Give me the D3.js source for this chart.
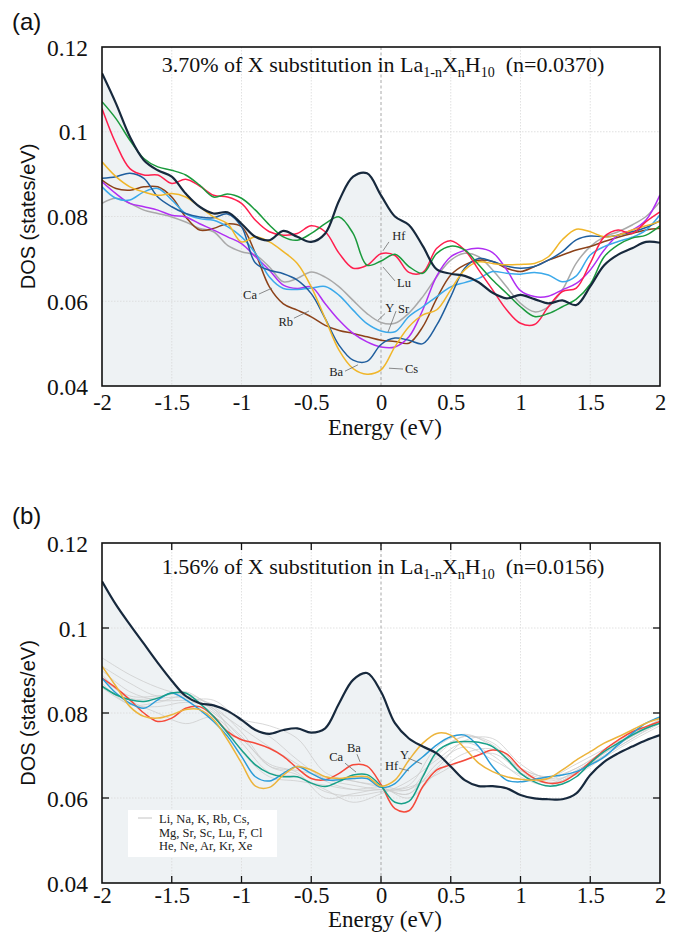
<!DOCTYPE html>
<html>
<head>
<meta charset="utf-8">
<script src="https://cdn.jsdelivr.net/npm/d3@7"></script>
<style>
  body { margin: 0; background: #fff; }
  svg { display: block; }
</style>
</head>
<body>
<svg id="chart" width="677" height="933"></svg>
<script>
// energy grid (eV)
const energy = [-2, -1.9, -1.8, -1.7, -1.6, -1.5, -1.4, -1.3, -1.2, -1.1, -1,
  -0.9, -0.8, -0.7, -0.6, -0.5, -0.4, -0.3, -0.2, -0.1, 0,
  0.1, 0.2, 0.3, 0.4, 0.5, 0.6, 0.7, 0.8, 0.9, 1,
  1.1, 1.2, 1.3, 1.4, 1.5, 1.6, 1.7, 1.8, 1.9, 2];
const energyCoarse = [-2, -1.8, -1.6, -1.4, -1.2, -1, -0.8, -0.6, -0.4, -0.2, 0,
  0.2, 0.4, 0.6, 0.8, 1, 1.2, 1.4, 1.6, 1.8, 2];

const xTicks = [-2, -1.5, -1, -0.5, 0, 0.5, 1, 1.5, 2];
const yTicks = [0.04, 0.06, 0.08, 0.1, 0.12];

// ---- panel (a): 3.70% ----
const pureA = [0.1138, 0.1067, 0.0988, 0.0933, 0.0909, 0.0894, 0.0854, 0.0823, 0.0807, 0.081, 0.0783,
  0.0752, 0.0744, 0.0766, 0.0752, 0.074, 0.076, 0.0838, 0.0894, 0.0902, 0.085,
  0.080, 0.078, 0.073, 0.0675, 0.0665, 0.066, 0.0645, 0.062, 0.0607, 0.0615,
  0.0605, 0.0595, 0.0602, 0.0591, 0.0635, 0.0685, 0.071, 0.0725, 0.074, 0.0738];
const luA = [0.1071, 0.1031, 0.098, 0.0937, 0.0917, 0.0909, 0.0898, 0.0874, 0.0846, 0.0853, 0.0843,
  0.0815, 0.078, 0.0752, 0.0744, 0.076, 0.0783, 0.0799, 0.076, 0.0685, 0.0695,
  0.0711, 0.0682, 0.0666, 0.0713, 0.073, 0.0721, 0.0686, 0.065, 0.0619, 0.0587,
  0.0564, 0.0571, 0.0587, 0.0605, 0.064, 0.0705, 0.0733, 0.0749, 0.0756, 0.0778];
const hfA = [0.1055, 0.0972, 0.0913, 0.0898, 0.0898, 0.0878, 0.0888, 0.0872, 0.085, 0.0846, 0.0831,
  0.0791, 0.0764, 0.0756, 0.076, 0.0778, 0.0764, 0.0713, 0.0678, 0.0685, 0.0712,
  0.0708, 0.0668, 0.0668, 0.0725, 0.0743, 0.0721, 0.0674, 0.0627, 0.058, 0.0548,
  0.0545, 0.0587, 0.0623, 0.0631, 0.069, 0.0752, 0.0768, 0.076, 0.0788, 0.0811];
const csA = [0.0929, 0.0894, 0.087, 0.0858, 0.085, 0.0854, 0.0846, 0.0823, 0.0799, 0.0783, 0.074,
  0.0752, 0.074, 0.0717, 0.0689, 0.0634, 0.0559, 0.0484, 0.0441, 0.0428, 0.0438,
  0.0493, 0.054, 0.0568, 0.058, 0.0627, 0.0674, 0.0693, 0.0689, 0.0686, 0.0687,
  0.0689, 0.0705, 0.0745, 0.077, 0.0764, 0.0752, 0.0756, 0.0768, 0.0778, 0.0788];
const baA = [0.089, 0.0894, 0.0902, 0.089, 0.0846, 0.0823, 0.0807, 0.0799, 0.0797, 0.0806, 0.0776,
  0.069, 0.0673, 0.0665, 0.065, 0.0618, 0.0559, 0.0496, 0.0461, 0.0458, 0.0498,
  0.0513, 0.0508, 0.05, 0.0544, 0.0611, 0.0678, 0.0701, 0.0694, 0.0683, 0.0678,
  0.0682, 0.0697, 0.0717, 0.0745, 0.0754, 0.0752, 0.0756, 0.0764, 0.0774, 0.079];
const srA = [0.087, 0.0843, 0.0839, 0.0858, 0.0866, 0.0839, 0.0807, 0.0795, 0.0791, 0.0776, 0.0752,
  0.0713, 0.0657, 0.063, 0.0628, 0.0631, 0.0635, 0.0614, 0.0579, 0.0547, 0.053,
  0.0528, 0.0564, 0.0587, 0.0611, 0.0634, 0.0644, 0.0654, 0.067, 0.0666, 0.0664,
  0.0668, 0.0662, 0.0646, 0.066, 0.0709, 0.0729, 0.0741, 0.0751, 0.0768, 0.0804];
const caA = [0.0882, 0.0854, 0.0831, 0.0823, 0.0815, 0.0803, 0.0799, 0.0783, 0.0768, 0.0752, 0.0736,
  0.0705, 0.0673, 0.0638, 0.063, 0.0634, 0.0594, 0.0555, 0.0524, 0.0504, 0.0492,
  0.0492, 0.0516, 0.058, 0.066, 0.0705, 0.072, 0.0725, 0.0715, 0.0675, 0.0625,
  0.0611, 0.0612, 0.0627, 0.0642, 0.0674, 0.0721, 0.0756, 0.0768, 0.0792, 0.0851];
const rbA = [0.0886, 0.0866, 0.0862, 0.087, 0.087, 0.0846, 0.0799, 0.0768, 0.0772, 0.0783, 0.0776,
  0.0713, 0.0634, 0.0594, 0.0579, 0.0563, 0.0543, 0.0531, 0.0524, 0.0516, 0.0508,
  0.0505, 0.0501, 0.054, 0.0607, 0.0662, 0.0686, 0.0697, 0.0694, 0.0678, 0.067,
  0.0682, 0.0697, 0.0709, 0.0721, 0.0729, 0.0741, 0.0751, 0.076, 0.0768, 0.0772];
const yA = [0.0831, 0.0843, 0.0831, 0.0815, 0.0807, 0.0799, 0.0787, 0.0772, 0.0764, 0.0732, 0.0717,
  0.0709, 0.0681, 0.0646, 0.0654, 0.0669, 0.0657, 0.0634, 0.0602, 0.0571, 0.055,
  0.0548, 0.0572, 0.0611, 0.0658, 0.0697, 0.0713, 0.0705, 0.0674, 0.0634, 0.0595,
  0.0575, 0.0587, 0.0627, 0.069, 0.0729, 0.0752, 0.0764, 0.078, 0.08, 0.0835];

// ---- panel (b): 1.56% ----
const pureB = [0.111, 0.1055, 0.1008, 0.0963, 0.0918, 0.0876, 0.0840, 0.0823, 0.0818, 0.0805, 0.0784,
  0.076, 0.0751, 0.076, 0.0764, 0.0754, 0.0764, 0.0823, 0.0878, 0.0894, 0.085,
  0.0776, 0.074, 0.0721, 0.0705, 0.0674, 0.0642, 0.0628, 0.0628, 0.0623, 0.0607,
  0.0599, 0.0597, 0.0597, 0.0611, 0.0654, 0.0685, 0.0705, 0.0721, 0.0736, 0.0748];
const baB = [0.0882, 0.0859, 0.0831, 0.08, 0.078, 0.0788, 0.0811, 0.0815, 0.0792, 0.0756, 0.0737,
  0.0729, 0.0717, 0.0698, 0.067, 0.0646, 0.0643, 0.0658, 0.0678, 0.0675, 0.0632,
  0.0575, 0.057, 0.0627, 0.0666, 0.0678, 0.0689, 0.0701, 0.0713, 0.0704, 0.067,
  0.0646, 0.0635, 0.0638, 0.0658, 0.0685, 0.0713, 0.0736, 0.0756, 0.0768, 0.078];
const caB = [0.0863, 0.0843, 0.0831, 0.0827, 0.0835, 0.0847, 0.0847, 0.0823, 0.0792, 0.0753, 0.0713,
  0.0678, 0.0658, 0.065, 0.065, 0.0635, 0.0627, 0.0639, 0.0654, 0.0655, 0.0628,
  0.059, 0.0592, 0.065, 0.0709, 0.0729, 0.0733, 0.0731, 0.0721, 0.0693, 0.0658,
  0.0638, 0.0628, 0.0633, 0.065, 0.0682, 0.0709, 0.0729, 0.0748, 0.0764, 0.0776];
const hfB = [0.0882, 0.0847, 0.0823, 0.0811, 0.0831, 0.0847, 0.0831, 0.0808, 0.078, 0.0745, 0.0698,
  0.065, 0.064, 0.0658, 0.0674, 0.0658, 0.0643, 0.0643, 0.0646, 0.0646, 0.0625,
  0.0634, 0.067, 0.0697, 0.0725, 0.0744, 0.0748, 0.0721, 0.0674, 0.0642, 0.0638,
  0.0644, 0.065, 0.0654, 0.0662, 0.0678, 0.0697, 0.0725, 0.0752, 0.0776, 0.0791];
const yB = [0.091, 0.0863, 0.0815, 0.0792, 0.0788, 0.0796, 0.0808, 0.0808, 0.0784, 0.0737, 0.0682,
  0.0628, 0.0625, 0.0654, 0.0674, 0.0666, 0.065, 0.0646, 0.065, 0.065, 0.0628,
  0.0642, 0.0689, 0.0729, 0.0752, 0.0748, 0.0717, 0.0682, 0.0662, 0.065, 0.0644,
  0.0642, 0.0646, 0.0666, 0.0689, 0.0709, 0.0729, 0.0744, 0.076, 0.0776, 0.0787];
// faint grey curves: the other substituents of panel (b)
const othersB = [
  [0.093, 0.089, 0.086, 0.084, 0.082, 0.0785, 0.077, 0.074, 0.066, 0.064, 0.063, 0.062, 0.070, 0.0745, 0.073, 0.067, 0.065, 0.067, 0.071, 0.075, 0.078],
  [0.091, 0.087, 0.084, 0.085, 0.081, 0.0765, 0.072, 0.068, 0.064, 0.062, 0.062, 0.063, 0.072, 0.075, 0.072, 0.066, 0.064, 0.066, 0.070, 0.074, 0.0775],
  [0.089, 0.083, 0.080, 0.0775, 0.079, 0.073, 0.066, 0.065, 0.062, 0.059, 0.061, 0.064, 0.069, 0.073, 0.070, 0.065, 0.063, 0.066, 0.070, 0.074, 0.078],
  [0.087, 0.082, 0.0825, 0.084, 0.0805, 0.074, 0.068, 0.066, 0.060, 0.061, 0.062, 0.061, 0.068, 0.072, 0.069, 0.0655, 0.0635, 0.0655, 0.0695, 0.0735, 0.077],
  [0.086, 0.082, 0.0815, 0.0825, 0.081, 0.071, 0.065, 0.064, 0.063, 0.062, 0.0625, 0.060, 0.066, 0.0705, 0.0715, 0.067, 0.065, 0.068, 0.0715, 0.075, 0.078],
  [0.090, 0.085, 0.083, 0.083, 0.083, 0.078, 0.0745, 0.069, 0.0645, 0.063, 0.062, 0.062, 0.067, 0.0735, 0.074, 0.068, 0.0645, 0.066, 0.0705, 0.0745, 0.0785],
  [0.088, 0.084, 0.084, 0.0845, 0.0815, 0.0755, 0.0675, 0.0655, 0.0615, 0.0605, 0.0615, 0.0625, 0.0655, 0.069, 0.0705, 0.0665, 0.0645, 0.067, 0.071, 0.0745, 0.078],
  [0.0885, 0.0835, 0.0835, 0.0835, 0.080, 0.0745, 0.0675, 0.0665, 0.065, 0.064, 0.0625, 0.061, 0.0705, 0.0745, 0.0725, 0.0665, 0.0635, 0.0665, 0.0705, 0.075, 0.0785]
];
const legendLines = ["Li, Na, K, Rb, Cs,", "Mg, Sr, Sc, Lu, F, Cl", "He, Ne, Ar, Kr, Xe"];

const SERIF = "'Liberation Serif','Times New Roman',serif";
const SANS = "'Liberation Sans',Arial,sans-serif";
const NAVY = "#17293d";

const panels = [
  {
    id: "a", tag: "(a)", pct: "3.70%", n: "0.0370",
    top: 47, bottom: 386, tagY: 30, titleY: 72, tickY: 410, xlabY: 435, innerTicks: false,
    base: pureA,
    series: [
      {v: yA, color: "#a9a9a9"}, {v: rbA, color: "#8c4219"}, {v: caA, color: "#b12ef2"},
      {v: srA, color: "#3ba9ea"}, {v: baA, color: "#1f5e9e"}, {v: csA, color: "#f0b62a"},
      {v: hfA, color: "#ff1f4e"}, {v: luA, color: "#1a9a3c"}
    ],
    notes: [
      {t: "Hf", tx: 0.08, ty: 0.0745, a: "start", l: [0.057, 0.074, 0.014, 0.0719]},
      {t: "Lu", tx: 0.115, ty: 0.0634, a: "start", l: [0.1, 0.0648, 0.014, 0.0681]},
      {t: "Y", tx: 0.03, ty: 0.0575, a: "start", l: [0.029, 0.0571, -0.022, 0.0555]},
      {t: "Sr", tx: 0.122, ty: 0.0572, a: "start", l: [0.108, 0.0577, 0.05, 0.0527]},
      {t: "Ca", tx: -0.889, ty: 0.0605, a: "end", l: [-0.875, 0.0617, -0.781, 0.0631]},
      {t: "Rb", tx: -0.631, ty: 0.0542, a: "end", l: [-0.624, 0.056, -0.516, 0.0577]},
      {t: "Ba", tx: -0.272, ty: 0.0424, a: "end", l: [-0.258, 0.0435, -0.165, 0.045]},
      {t: "Cs", tx: 0.172, ty: 0.0431, a: "start", l: [0.057, 0.0442, 0.158, 0.044]}
    ]
  },
  {
    id: "b", tag: "(b)", pct: "1.56%", n: "0.0156",
    top: 543, bottom: 883, tagY: 524, titleY: 574, tickY: 903, xlabY: 927, innerTicks: true,
    base: pureB,
    grey: othersB,
    series: [
      {v: baB, color: "#f5493a"}, {v: hfB, color: "#2b9cd8"},
      {v: caB, color: "#17a088"}, {v: yB, color: "#ecb43c"}
    ],
    notes: [
      {t: "Ca", tx: -0.272, ty: 0.0687, a: "end", l: [-0.258, 0.0682, -0.179, 0.0661]},
      {t: "Ba", tx: -0.194, ty: 0.0708, a: "middle", l: [-0.172, 0.0703, -0.15, 0.0685]},
      {t: "Y", tx: 0.136, ty: 0.0692, a: "start", l: [0.194, 0.0694, 0.294, 0.068]},
      {t: "Hf", tx: 0.029, ty: 0.0666, a: "start", l: [0.129, 0.067, 0.2, 0.0664]}
    ]
  }
];

const svg = d3.select("#chart");
const left = 102, right = 660;

panels.forEach(p => {
  const x = d3.scaleLinear().domain([-2, 2]).range([left, right]);
  const y = d3.scaleLinear().domain([0.04, 0.12]).range([p.bottom, p.top]);
  const g = svg.append("g");

  g.append("clipPath").attr("id", "clip-" + p.id)
    .append("rect").attr("x", left).attr("y", p.top)
    .attr("width", right - left).attr("height", p.bottom - p.top);
  const plot = g.append("g").attr("clip-path", `url(#clip-${p.id})`);

  const curve = d3.curveCatmullRom.alpha(0.5);
  const line = d3.line().x((d, i) => x(energy[i])).y(d => y(d)).curve(curve);
  const coarseLine = d3.line().x((d, i) => x(energyCoarse[i])).y(d => y(d)).curve(curve);
  const area = d3.area().x((d, i) => x(energy[i])).y0(y(0.04)).y1(d => y(d)).curve(curve);

  // shaded area under the pristine LaH10 curve
  plot.append("path").datum(p.base).attr("d", area).attr("fill", "#eef2f4");

  // grid
  plot.selectAll(".gx").data(xTicks.filter(d => d !== 0 && Math.abs(d) < 2)).join("line")
    .attr("x1", d => x(d)).attr("x2", d => x(d)).attr("y1", p.top).attr("y2", p.bottom)
    .attr("stroke", "#d9d9d9").attr("stroke-width", 0.8).attr("stroke-dasharray", "1.5,1.5");
  plot.selectAll(".gy").data(yTicks.slice(1, -1)).join("line")
    .attr("x1", left).attr("x2", right).attr("y1", d => y(d)).attr("y2", d => y(d))
    .attr("stroke", "#d9d9d9").attr("stroke-width", 0.8).attr("stroke-dasharray", "1.5,1.5");
  plot.append("line")
    .attr("x1", x(0)).attr("x2", x(0)).attr("y1", p.top).attr("y2", p.bottom)
    .attr("stroke", "#a8a8a8").attr("stroke-width", 1).attr("stroke-dasharray", "3,2.5");

  if (p.grey) {
    plot.selectAll(".grey").data(p.grey).join("path")
      .attr("d", coarseLine).attr("fill", "none")
      .attr("stroke", "#cccccc").attr("stroke-width", 0.9).attr("opacity", 0.85);
  }
  plot.selectAll(".ser").data(p.series).join("path")
    .attr("d", d => line(d.v)).attr("fill", "none")
    .attr("stroke", d => d.color).attr("stroke-width", 1.5);
  plot.append("path").datum(p.base).attr("d", line).attr("fill", "none")
    .attr("stroke", NAVY).attr("stroke-width", 2.2);

  // labels with leader lines
  p.notes.forEach(n => {
    g.append("line")
      .attr("x1", x(n.l[0])).attr("y1", y(n.l[1])).attr("x2", x(n.l[2])).attr("y2", y(n.l[3]))
      .attr("stroke", "#6f6f6f").attr("stroke-width", 0.8);
    g.append("text").attr("x", x(n.tx)).attr("y", y(n.ty)).attr("text-anchor", n.a)
      .attr("font-family", SERIF).attr("font-size", 12.5).attr("fill", "#222").text(n.t);
  });

  // frame
  g.append("rect").attr("x", left).attr("y", p.top)
    .attr("width", right - left).attr("height", p.bottom - p.top)
    .attr("fill", "none").attr("stroke", "#111").attr("stroke-width", 1.6);

  if (p.innerTicks) {
    const tk = 7;
    const inner = xTicks.slice(1, -1), innerY = yTicks.slice(1, -1);
    const tg = g.append("g").attr("stroke", "#111").attr("stroke-width", 1.3);
    inner.forEach(d => {
      tg.append("line").attr("x1", x(d)).attr("x2", x(d)).attr("y1", p.top).attr("y2", p.top + tk);
      tg.append("line").attr("x1", x(d)).attr("x2", x(d)).attr("y1", p.bottom).attr("y2", p.bottom - tk);
    });
    innerY.forEach(d => {
      tg.append("line").attr("x1", left).attr("x2", left + tk).attr("y1", y(d)).attr("y2", y(d));
      tg.append("line").attr("x1", right).attr("x2", right - tk).attr("y1", y(d)).attr("y2", y(d));
    });
  }

  // axes (labels only)
  const xAxis = g.append("g").attr("transform", `translate(0,${p.tickY})`)
    .call(d3.axisBottom(x).tickValues(xTicks).tickSize(0).tickPadding(0).tickFormat(d => String(d)));
  xAxis.select(".domain").remove();
  xAxis.selectAll("text").attr("dy", 0).attr("y", 0)
    .attr("font-family", SERIF).attr("font-size", 22.5).attr("fill", "#111");

  const yAxis = g.append("g").attr("transform", `translate(${left},0)`)
    .call(d3.axisLeft(y).tickValues(yTicks).tickSize(0).tickPadding(14).tickFormat(d => String(d)));
  yAxis.select(".domain").remove();
  yAxis.selectAll("text").attr("dy", "0.34em")
    .attr("font-family", SERIF).attr("font-size", 23.5).attr("fill", "#111");

  g.append("text").attr("x", (left + right) / 2 + 4).attr("y", p.xlabY).attr("text-anchor", "middle")
    .attr("font-family", SERIF).attr("font-size", 23).attr("fill", "#111").text("Energy (eV)");
  g.append("text")
    .attr("transform", `translate(35,${(p.top + p.bottom) / 2}) rotate(-90)`)
    .attr("text-anchor", "middle").attr("font-family", SANS).attr("font-size", 20).attr("fill", "#111")
    .text("DOS (states/eV)");

  g.append("text").attr("x", 12).attr("y", p.tagY)
    .attr("font-family", SANS).attr("font-size", 24).attr("fill", "#111").text(p.tag);

  // title with subscripts
  const t = g.append("text").attr("x", (left + right) / 2 + 2).attr("y", p.titleY)
    .attr("text-anchor", "middle").attr("font-family", SERIF).attr("font-size", 22).attr("fill", "#111");
  t.append("tspan").text(`${p.pct} of X substitution in La`);
  t.append("tspan").attr("dy", 5).attr("font-size", 14).text("1-n");
  t.append("tspan").attr("dy", -5).text("X");
  t.append("tspan").attr("dy", 5).attr("font-size", 14).text("n");
  t.append("tspan").attr("dy", -5).text("H");
  t.append("tspan").attr("dy", 5).attr("font-size", 14).text("10");
  t.append("tspan").attr("dy", -5).text(`\u00a0 (n=${p.n})`);

  if (p.id === "b") {
    const lg = g.append("g").attr("transform", "translate(128,810)");
    lg.append("rect").attr("width", 149).attr("height", 47).attr("fill", "#fff");
    lg.append("line").attr("x1", 10).attr("x2", 24).attr("y1", 8).attr("y2", 8)
      .attr("stroke", "#c4c4c4").attr("stroke-width", 1);
    lg.selectAll("text").data(legendLines).join("text")
      .attr("x", 31).attr("y", (d, i) => 13 + i * 13.5)
      .attr("font-family", SERIF).attr("font-size", 12.5).attr("fill", "#222").text(d => d);
  }
});
</script>
</body>
</html>
